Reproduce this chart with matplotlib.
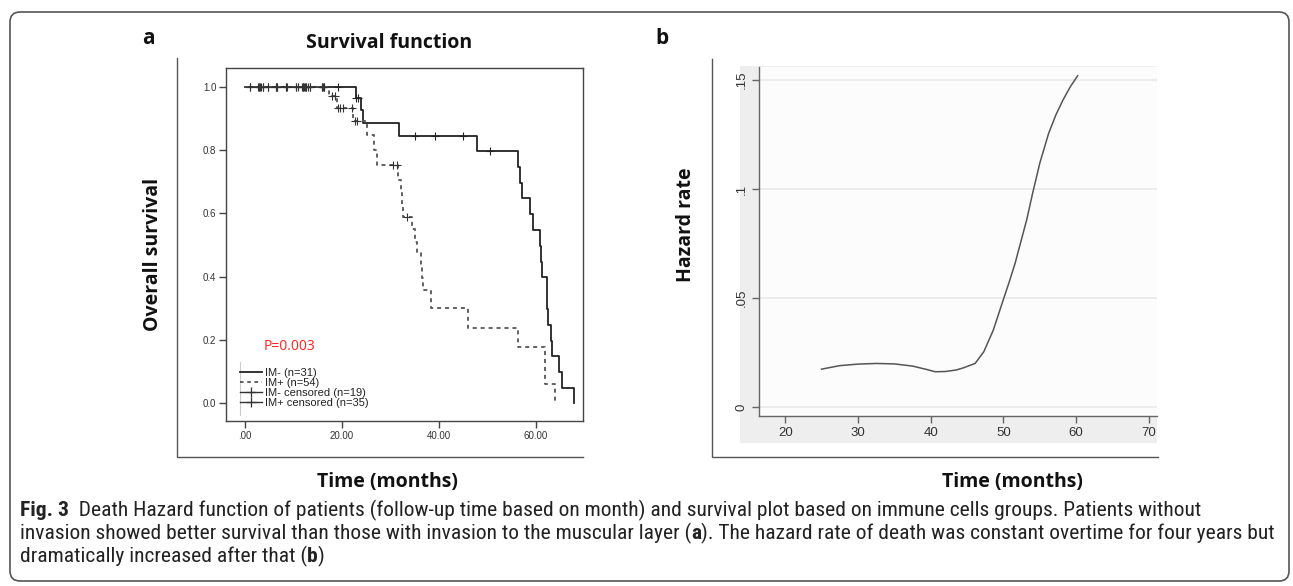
import matplotlib
matplotlib.use('Agg')
import matplotlib.pyplot as plt
import numpy as np
from matplotlib.lines import Line2D
from matplotlib.patches import FancyBboxPatch, Rectangle
from matplotlib import font_manager
from matplotlib.transforms import IdentityTransform

# ---------------- data ----------------
# Kaplan-Meier, IM- (solid)
im_neg_t = [0, 22.9, 23.9, 24.4, 31.7, 47.8, 56.4, 56.8, 57.1, 58.8, 59.3, 60.8,
            61.1, 61.3, 62.3, 62.35, 62.5, 63.2, 63.4, 64.8, 65.4, 67.8]
im_neg_s = [1.0, 0.966, 0.927, 0.885, 0.845, 0.797, 0.747, 0.697, 0.648, 0.598, 0.547, 0.498,
            0.447, 0.398, 0.347, 0.297, 0.247, 0.197, 0.149, 0.097, 0.048, 0.0]
# Kaplan-Meier, IM+ (dashed)
im_pos_t = [0, 17.3, 18.9, 22.3, 25.2, 26.7, 27.2, 31.6, 32.1, 32.3, 32.6, 34.4, 35.0,
            35.5, 36.4, 36.6, 36.8, 38.3, 46.0, 56.4, 61.9, 61.95, 63.9]
im_pos_s = [1.0, 0.972, 0.934, 0.893, 0.848, 0.80, 0.753, 0.705, 0.663, 0.62, 0.59, 0.55, 0.51,
            0.474, 0.435, 0.397, 0.358, 0.30, 0.236, 0.178, 0.118, 0.06, 0.0]
# censored times
im_neg_cens = [1.0, 3.0, 3.8, 4.7, 6.5, 8.4, 10.5, 11.9, 12.6, 13.4, 15.8, 16.4, 19.1,
               23.0, 23.4, 35.1, 39.2, 45.0, 50.5]
im_pos_cens = [1.0, 2.6, 2.96, 3.4, 3.8, 4.7, 6.5, 6.7, 8.4, 8.7, 10.5, 10.9, 11.9, 12.2,
               12.6, 13.0, 13.4, 15.8, 16.1, 16.4, 19.1, 11.8, 12.4, 6.6, 3.2,
               17.9, 18.6, 19.6, 20.3, 22.0, 22.6, 23.2, 30.6, 31.3, 33.5]
legend_labels = ['IM- (n=31)', 'IM+ (n=54)', 'IM- censored (n=19)', 'IM+ censored (n=35)']
km_xticks = [0, 20, 40, 60]
km_xticklabels = ['.00', '20.00', '40.00', '60.00']
km_yticks = [0.0, 0.2, 0.4, 0.6, 0.8, 1.0]
km_yticklabels = ['0.0', '0.2', '0.4', '0.6', '0.8', '1.0']
p_text = 'P=0.003'

# Hazard function
haz_t = [25, 27.5, 30, 32.5, 35, 37.5, 39.5, 40.6, 42, 43.5, 44.5, 46.1, 47.3, 48.6, 50,
         50.8, 51.6, 52.4, 53.2, 54.0, 55.0, 56.2, 57.2, 58.2, 59.2, 60.2]
haz_v = [0.0174, 0.0190, 0.0197, 0.0200, 0.0198, 0.0188, 0.0172, 0.0162, 0.0163, 0.0170,
         0.0180, 0.0200, 0.0254, 0.0353, 0.0495, 0.0575, 0.066, 0.076, 0.086, 0.098, 0.112,
         0.1255, 0.134, 0.141, 0.147, 0.152]
hz_xticks = [20, 30, 40, 50, 60, 70]
hz_yticks = [0, 0.05, 0.1, 0.15]
hz_yticklabels = ['0', '.05', '.1', '.15']

caption_lines = [
    [('Fig. 3', True), ('  Death Hazard function of patients (follow-up time based on month) and survival plot based on immune cells groups. Patients without', False)],
    [('invasion showed better survival than those with invasion to the muscular layer (', False), ('a', True),
     ('). The hazard rate of death was constant overtime for four years but', False)],
    [('dramatically increased after that (', False), ('b', True), (')', False)],
]

# ---------------- figure ----------------
W, H = 1293, 586
fig = plt.figure(figsize=(W / 100, H / 100), dpi=100)
fig.patch.set_facecolor('white')

def fx(px):
    return px / W

def fy(py):
    return 1 - py / H

avail = {f.name for f in font_manager.fontManager.ttflist}
head_family = 'Open Sans' if 'Open Sans' in avail else 'DejaVu Sans'
tick_family = 'Liberation Sans' if 'Liberation Sans' in avail else 'DejaVu Sans'
cap_family = next((f for f in ['Liberation Sans Narrow', 'DejaVu Sans Condensed', 'Roboto Condensed',
                               'Open Sans Condensed', 'Noto Sans'] if f in avail), 'DejaVu Sans')

# outer rounded frame
frame = FancyBboxPatch((10, H - 581), 1279, 569, boxstyle='round,pad=0,rounding_size=10',
                       transform=IdentityTransform(), facecolor='none', edgecolor='#555555', lw=1.2)
fig.add_artist(frame)

# panel frame lines
fig.add_artist(Line2D([fx(177), fx(177), fx(583)], [fy(58), fy(457), fy(457)],
                      transform=fig.transFigure, color='#555555', lw=1))
fig.add_artist(Line2D([fx(712), fx(712), fx(1158)], [fy(59), fy(457), fy(457)],
                      transform=fig.transFigure, color='#555555', lw=1))

# right gray background region
bg = Rectangle((fx(740), fy(443)), (1157 - 740) / W, (443 - 66) / H, transform=fig.transFigure,
               facecolor='#eeeeee', edgecolor='none', zorder=-5)
fig.add_artist(bg)

# ---------------- left: KM ----------------
axL = fig.add_axes([fx(226), fy(421), (583 - 226) / W, (421 - 68) / H])
axL.set_xlim(-3.9, 69.7)
axL.set_ylim(-0.057, 1.06)

axL.step(im_neg_t, im_neg_s, where='post', color='#222222', lw=1.3)
axL.step(im_pos_t, im_pos_s, where='post', color='#555555', lw=1.3, linestyle=(0, (2.2, 2.2)))

def surv_at(ts, ss, c):
    idx = np.searchsorted(np.array(ts), np.array(c), side='right') - 1
    return np.array(ss)[idx]

axL.plot(im_neg_cens, surv_at(im_neg_t, im_neg_s, im_neg_cens), linestyle='none', marker='+',
         ms=6, mew=0.8, color='#222222')
axL.plot(im_pos_cens, surv_at(im_pos_t, im_pos_s, im_pos_cens), linestyle='none', marker='+',
         ms=6, mew=0.8, color='#333333')

for s in axL.spines.values():
    s.set_color('#444444')
    s.set_linewidth(1)
axL.set_xticks(km_xticks)
axL.set_xticklabels(km_xticklabels)
axL.set_yticks(km_yticks)
axL.set_yticklabels(km_yticklabels)
axL.tick_params(direction='out', length=5, width=1, color='#444444', labelsize=7,
                labelcolor='#333333', pad=2)
for lab in axL.get_xticklabels() + axL.get_yticklabels():
    lab.set_family(tick_family)

handles = [Line2D([], [], color='#222222', lw=1.3),
           Line2D([], [], color='#555555', lw=1.3, linestyle=(0, (2, 2))),
           Line2D([], [], color='#333333', lw=1.0, marker='+', ms=7, mew=0.9),
           Line2D([], [], color='#333333', lw=1.0, marker='+', ms=7, mew=0.9)]
leg = axL.legend(handles, legend_labels, loc='lower left', bbox_to_anchor=(0.035, 0.035),
                 frameon=False, fontsize=8, handlelength=2.0, handletextpad=0.3,
                 labelspacing=0.0, borderpad=0.1, borderaxespad=0)
for t in leg.get_texts():
    t.set_family(tick_family)
    t.set_color('#222222')
axL.plot([0.039, 0.039], [0.017, 0.167], transform=axL.transAxes, color='#cccccc', lw=0.8)

axL.text(0.106, 0.21, p_text, transform=axL.transAxes, color='#ff2020', fontsize=10,
         family=head_family, ha='left', va='center')

# ---------------- right: hazard ----------------
axR = fig.add_axes([fx(759), fy(416), (1157 - 759) / W, (416 - 67) / H])
axR.set_facecolor('#fcfcfc')
axR.set_xlim(16.4, 71.1)
axR.set_ylim(-0.0041, 0.156)
axR.plot(haz_t, haz_v, color='#555555', lw=1.1)
axR.set_yticks(hz_yticks)
axR.set_yticklabels(hz_yticklabels, rotation=90, va='center')
axR.set_xticks(hz_xticks)
axR.yaxis.grid(True, color='#e9e9e9', lw=1.2)
axR.set_axisbelow(True)
for k in ['top', 'right']:
    axR.spines[k].set_visible(False)
for k in ['left', 'bottom']:
    axR.spines[k].set_color('#666666')
    axR.spines[k].set_linewidth(1)
axR.tick_params(direction='out', length=5, width=1, color='#666666', labelsize=9.5,
                labelcolor='#333333', pad=3)
for lab in axR.get_xticklabels() + axR.get_yticklabels():
    lab.set_family(tick_family)

# ---------------- headings ----------------
hd = dict(family=head_family, fontweight='bold', color='#111111', ha='center', va='center')
fig.text(fx(148), fy(38), 'a', fontsize=15, **hd)
fig.text(fx(662), fy(38), 'b', fontsize=15, **hd)
fig.text(fx(389), fy(43), 'Survival function', fontsize=14, **hd)
fig.text(fx(153), fy(254), 'Overall survival', fontsize=14, rotation=90, **hd)
fig.text(fx(686), fy(225), 'Hazard rate', fontsize=14, rotation=90, **hd)
fig.text(fx(387), fy(482), 'Time (months)', fontsize=14, **hd)
fig.text(fx(1012), fy(482), 'Time (months)', fontsize=14, **hd)

# ---------------- caption ----------------
renderer = fig.canvas.get_renderer()

def run_width(runs, size):
    w = 0
    for txt, bold in runs:
        t = fig.text(0, 0, txt, fontsize=size, family=cap_family,
                     fontweight='bold' if bold else 'normal')
        w += t.get_window_extent(renderer=renderer).width
        t.remove()
    return w

base = 10.0
w2 = run_width(caption_lines[1], base)
cap_size = base * 1245.0 / w2

baselines = [516, 539, 562]
for runs, yb in zip(caption_lines, baselines):
    x = 20.0
    for txt, bold in runs:
        t = fig.text(fx(x), fy(yb), txt, fontsize=cap_size, family=cap_family,
                     fontweight='bold' if bold else 'normal', ha='left', va='baseline',
                     color='#222222')
        x += t.get_window_extent(renderer=renderer).width

fig.savefig('out.png', dpi=100)
